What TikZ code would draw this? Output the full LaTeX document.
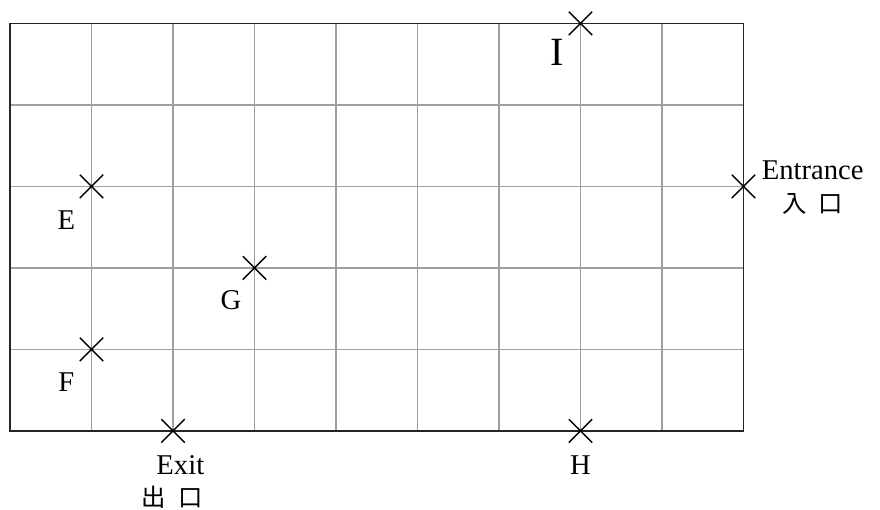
\documentclass[tikz,border=0pt]{standalone}
\usepackage{fontspec}
\setmainfont{Liberation Serif}
\newfontfamily\cjkfont{Noto Sans CJK TC}
\usetikzlibrary{positioning,shapes.misc}
\tikzset{
  spot/.style={cross out, draw=black, line width=0.5pt, minimum size=0.27cm, inner sep=0pt},
  lbl/.style={inner sep=0pt, font=\fontsize{10}{12}\selectfont}
}

\begin{document}
\begin{tikzpicture}
      \useasboundingbox (-0.123,-0.969) rectangle (10.675,5.288);
      \draw[gray!75, line width=0.4pt] (0,0) grid (9,5);
      \draw[black!85, line width=0.5pt] (0,0) rectangle (9,5);
      % points on the grid
      \node[spot] (xI) at (7,5) {};
      \node[spot] (xIn) at (9,3) {};
      \node[spot] (xE) at (1,3) {};
      \node[spot] (xG) at (3,2) {};
      \node[spot] (xF) at (1,1) {};
      \node[spot] (xOut) at (2,0) {};
      \node[spot] (xH) at (7,0) {};
      % labels
      \node[lbl, font=\fontsize{14}{16}\selectfont] (tI) at (6.71,4.65) {I};
      \node[lbl] (tIn) at (9.85,3.20) {Entrance};
      \node[lbl] (tInC) at (9.85,2.79) {\cjkfont\fontsize{8.5}{11}\selectfont 入\hspace{0.5em}口};
      \node[lbl] (tE) at (0.69,2.59) {E};
      \node[lbl] (tG) at (2.71,1.61) {G};
      \node[lbl] (tF) at (0.69,0.60) {F};
      \node[lbl] (tOut) at (2.09,-0.42) {Exit};
      \node[lbl] (tOutC) at (1.99,-0.81) {\cjkfont\fontsize{8.5}{11}\selectfont 出\hspace{0.5em}口};
      \node[lbl] (tH) at (7.0,-0.42) {H};
    \end{tikzpicture}
\end{document}
